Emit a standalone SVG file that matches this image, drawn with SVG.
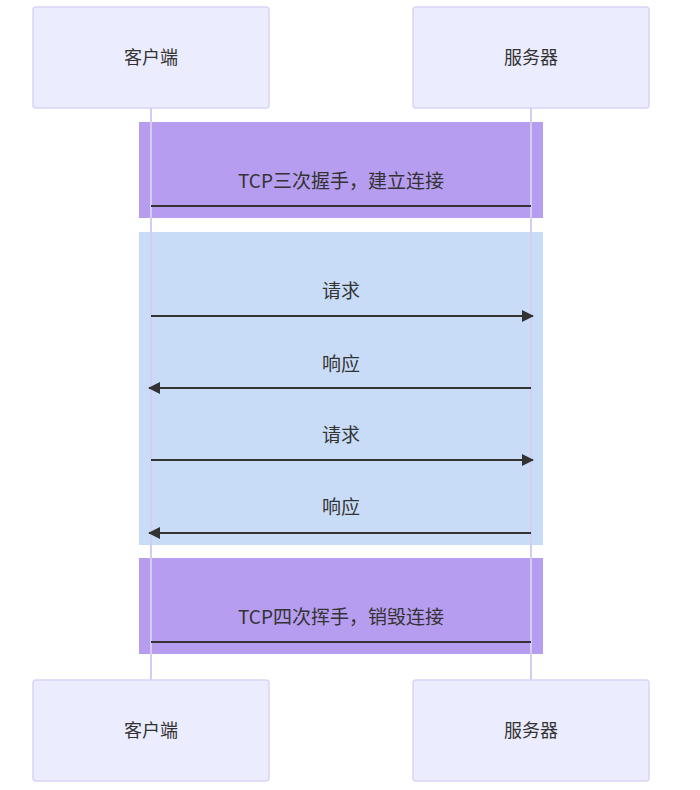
<svg xmlns="http://www.w3.org/2000/svg" width="700" height="790" viewBox="0 0 700 790">
<style>
.actor{fill:#ECECFF;stroke:#d9d4f5;stroke-width:1.5}
.t{font-family:"Noto Sans CJK SC","Noto Sans",sans-serif;font-size:19px;fill:#333;text-anchor:middle}
.at{font-family:"Noto Sans CJK SC","Noto Sans",sans-serif;font-size:18px;fill:#333;text-anchor:middle}
.msg{stroke:#333;stroke-width:2;fill:none}
.life{stroke:#d4cdf3;stroke-width:2}
</style>
<defs><marker id="ah" viewBox="0 0 12 12" refX="11" refY="6" markerWidth="12" markerHeight="12" markerUnits="userSpaceOnUse" orient="auto"><path d="M0,0L12,6L0,12z" fill="#333"/></marker></defs>
<rect x="139" y="122" width="404" height="96" fill="#b79df0"/>
<rect x="139" y="232" width="404" height="313" fill="#c9dcf7"/>
<rect x="139" y="558" width="404" height="96" fill="#b79df0"/>
<g id="lifelines"><line class="life" x1="151" y1="108" x2="151" y2="680"/><line class="life" x1="531" y1="108" x2="531" y2="680"/></g>
<g id="client-top"><rect class="actor" x="33" y="7" width="236" height="101" rx="3"/><text class="at" x="151" y="64">客户端</text></g>
<g id="server-top"><rect class="actor" x="413" y="7" width="236" height="101" rx="3"/><text class="at" x="531" y="64">服务器</text></g>
<g id="client-bottom"><rect class="actor" x="33" y="680" width="236" height="101" rx="3"/><text class="at" x="151" y="737">客户端</text></g>
<g id="server-bottom"><rect class="actor" x="413" y="680" width="236" height="101" rx="3"/><text class="at" x="531" y="737">服务器</text></g>
<g id="connectors">
<line class="msg" x1="151" y1="206" x2="531" y2="206"/>
<line class="msg" x1="151" y1="316" x2="533" y2="316" marker-end="url(#ah)"/>
<line class="msg" x1="531" y1="388" x2="149" y2="388" marker-end="url(#ah)"/>
<line class="msg" x1="151" y1="460" x2="533" y2="460" marker-end="url(#ah)"/>
<line class="msg" x1="531" y1="533" x2="149" y2="533" marker-end="url(#ah)"/>
<line class="msg" x1="151" y1="642" x2="531" y2="642"/>
</g>
<text class="t" x="341" y="188">TCP三次握手，建立连接</text>
<text class="t" x="341" y="298">请求</text>
<text class="t" x="341" y="371">响应</text>
<text class="t" x="341" y="442">请求</text>
<text class="t" x="341" y="514">响应</text>
<text class="t" x="341" y="624">TCP四次挥手，销毁连接</text>
</svg>
